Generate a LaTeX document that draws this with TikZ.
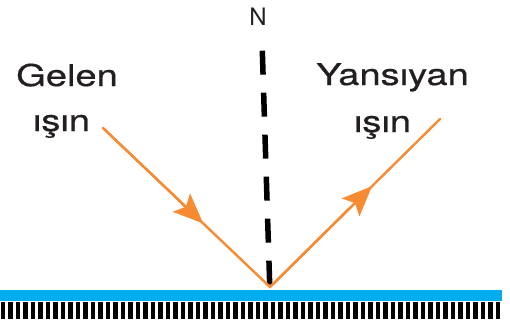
\documentclass[tikz,border=0pt]{standalone}
\usepackage{fontspec}
\setmainfont{TeX Gyre Heros}
\newfontfamily\lblfont[FakeBold=0.5]{TeX Gyre Heros}
\usetikzlibrary{arrows.meta,calc}
\definecolor{raycol}{RGB}{246,139,51}
\definecolor{mirrorcol}{RGB}{0,174,239}
\definecolor{txtcol}{RGB}{35,31,32}
\tikzset{
  lbl/.style={inner sep=0pt, anchor=base, text=txtcol, font=\lblfont\fontsize{30}{34}\selectfont},
  rayline/.style={draw=raycol, line width=2.4pt},
  rayarrow/.style={draw=raycol, line width=2.4pt, -{Stealth[length=30pt,width=25pt,inset=6pt,fill=raycol]}},
  normalline/.style={draw=black, line width=5.5pt, dash pattern=on 24pt off 18pt}
}
\begin{document}
\begin{tikzpicture}[x=1pt,y=-1pt]
\useasboundingbox (0,0) rectangle (510,324);
% ground
\fill[mirrorcol] (0,290) rectangle (502,301);
\foreach \i in {0,...,66} {
  \fill[black] (0.5+\i*7.5,302) rectangle ++(4.7,17);
}
% normal
\coordinate (ntop) at (262.3,50.7);
\coordinate (nbot) at (269.7,285);
\draw[normalline] (ntop) -- (nbot);
\node[inner sep=0pt, anchor=base, text=txtcol, font=\fontsize{24}{28}\selectfont] (N) at (258,25) {N};
% rays
\coordinate (A) at (103,128);
\coordinate (P) at (270,287);
\coordinate (B) at (440,119);
\draw[rayline, line cap=round] (A) -- (P) -- (B);
\draw[rayarrow] (A) -- ($(A)!0.6!(P)$);
\draw[rayarrow] (P) -- ($(P)!0.6!(B)$);
% labels
\node[lbl] (g1) at (67,86) {\scalebox{1.27}[1]{Gelen}};
\node[lbl] (g2) at (61.5,131) {\scalebox{1.27}[1]{ışın}};
\node[lbl] (y1) at (392.5,85) {\scalebox{1.27}[1]{Yansıyan}};
\node[lbl] (y2) at (382.5,132) {\scalebox{1.27}[1]{ışın}};
\end{tikzpicture}
\end{document}
